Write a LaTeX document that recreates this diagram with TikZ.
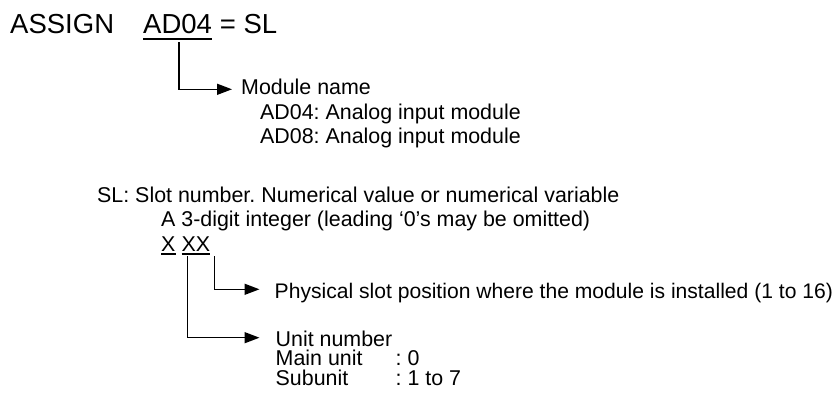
\documentclass[tikz,border=0pt]{standalone}
\usepackage{fontspec}
\setmainfont{Liberation Sans}
\usetikzlibrary{arrows.meta,calc}
\begin{document}
\frenchspacing
\begin{tikzpicture}[x=1pt,y=-1pt,
  txt/.style={anchor=base west, inner sep=0pt, font=\fontsize{21.4}{24}\selectfont},
  big/.style={anchor=base west, inner sep=0pt, font=\fontsize{27.5}{30}\selectfont},
  conn/.style={line width=1.5pt, -{Triangle[length=15pt,width=11pt]}},
  uline/.style={line width=2pt},
]
\useasboundingbox (0,0) rectangle (839,395);
% top line
\node[big] (assign) at (10,33.3) {ASSIGN};
\node[big] (ad) at (143,33.3) {AD04};
\node[big, xshift=7.5pt] (eq) at (ad.base east) {= SL};
\draw[uline] ($(ad.base west)+(0,6)$) -- ($(ad.base east)+(0,6)$);
% module name block
\node[txt] (modname) at (241,95) {Module name};
\node[txt] (ad04) at (260,119.3) {AD04: Analog input module};
\node[txt] (ad08) at (260,143.3) {AD08: Analog input module};
\coordinate (m1) at (179,42.5);
\coordinate (m2) at (232,89.3);
\draw[conn] (m1) |- (m2);
% SL block
\node[txt] (sl) at (97,202.7) {SL: Slot number. Numerical value or numerical variable};
\node[txt] (digit) at (161,227) {A 3-digit integer (leading ‘0’s may be omitted)};
\node[txt] (xa) at (161,251.3) {X};
\node[txt] (xb) at (181.5,251.3) {XX};
\draw[uline] ($(xa.base west)+(0,3)$) -- ($(xa.base east)+(0,3)$);
\draw[uline] ($(xb.base west)+(0,3)$) -- ($(xb.base east)+(0,3)$);
% physical slot
\node[txt, font=\fontsize{21.1}{24}\selectfont] (phys) at (274.5,299) {Physical slot position where the module is installed (1 to 16)};
\coordinate (p1) at (214.3,256.5);
\coordinate (p2) at (259.5,289.3);
\draw[conn] (p1) |- (p2);
% unit number
\node[txt] (unit) at (275.5,346.7) {Unit number};
\node[txt] (main) at (275.5,366) {Main unit};
\node[txt] (mainv) at (395.5,366) {: 0};
\node[txt] (sub) at (275.5,385.3) {Subunit};
\node[txt] (subv) at (395.5,385.3) {: 1 to 7};
\coordinate (u1) at (187.5,256.5);
\coordinate (u2) at (259.5,337.7);
\draw[conn] (u1) |- (u2);
\end{tikzpicture}
\end{document}
